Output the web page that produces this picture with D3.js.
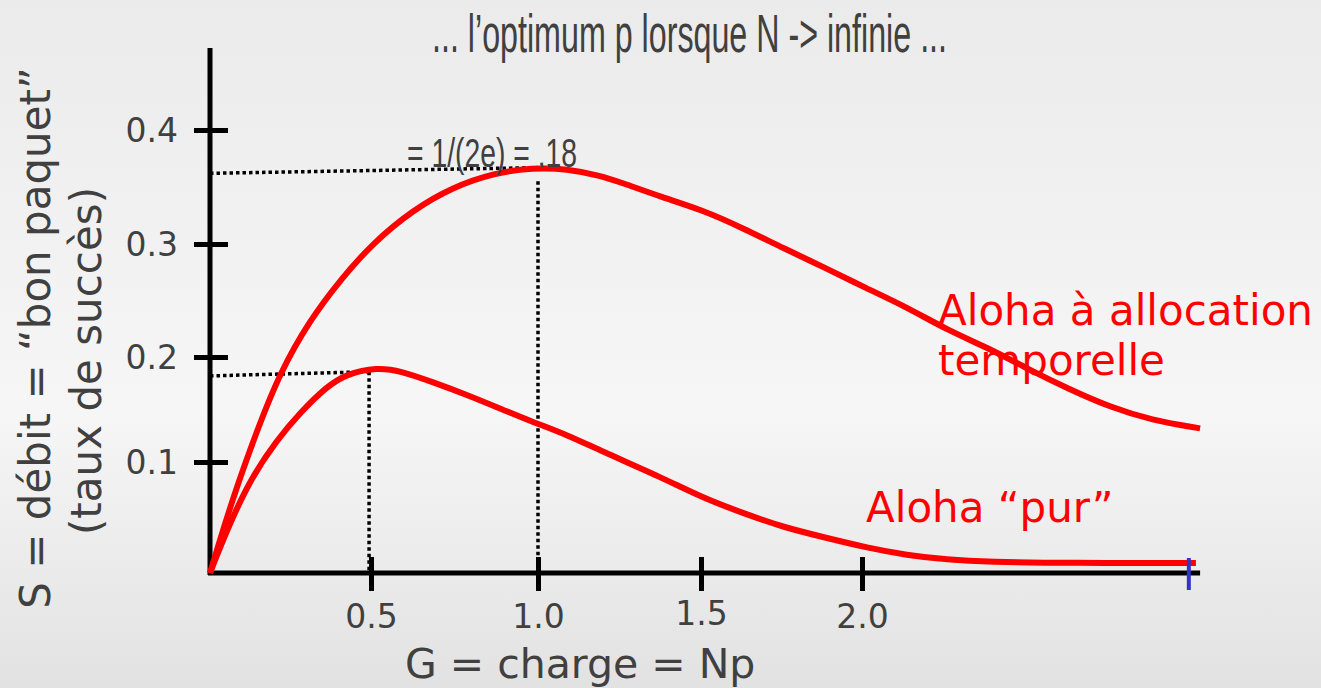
<!DOCTYPE html>
<html>
<head>
<meta charset="utf-8">
<script src="https://cdn.jsdelivr.net/npm/d3@7"></script>
<style>
  html, body { margin: 0; padding: 0; overflow: hidden; }
</style>
</head>
<body>
<div id="chart"></div>
<script>
// data
var slottedG = [0, 0.071, 0.146, 0.217, 0.311, 0.404, 0.506, 0.626, 0.746, 0.865, 0.985, 1.089, 1.190, 1.255, 1.380, 1.503, 1.630, 1.758, 1.885, 2.012, 2.140, 2.264, 2.392, 2.519, 2.646, 2.773, 2.898, 3.050];
var slottedS = [0, 0.068, 0.130, 0.185, 0.233, 0.268, 0.301, 0.330, 0.350, 0.362, 0.367, 0.366, 0.360, 0.354, 0.341, 0.330, 0.314, 0.296, 0.279, 0.261, 0.244, 0.224, 0.208, 0.188, 0.169, 0.152, 0.140, 0.132];

var pureG = [0, 0.053, 0.124, 0.208, 0.280, 0.363, 0.425, 0.518, 0.587, 0.686, 0.787, 0.886, 0.985, 1.088, 1.190, 1.380, 1.503, 1.630, 1.758, 1.885, 2.012, 2.140, 2.264, 2.392, 2.646, 3.037];
var pureS = [0, 0.039, 0.084, 0.121, 0.147, 0.172, 0.184, 0.190, 0.187, 0.176, 0.164, 0.151, 0.138, 0.126, 0.111, 0.086, 0.068, 0.054, 0.041, 0.032, 0.023, 0.016, 0.012, 0.010, 0.009, 0.009];

// dotted guide lines to the maxima
var slottedGuideH = [[0, 0.362], [1.0, 0.367]];
var slottedGuideV = [[1.0, 0.355], [1.0, 0]];
var pureGuideH = [[0, 0.182], [0.494, 0.186]];
var pureGuideV = [[0.494, 0.186], [0.494, 0]];

var xTicks = [0.5, 1.0, 1.5, 2.0];
var xTickLabels = ["0.5", "1.0", "1.5", "2.0"];
var yTicks = [0.1, 0.2, 0.3, 0.4];
var yTickLabels = ["0.1", "0.2", "0.3", "0.4"];
var xMax = 3.05;
var blueTickG = 3.015;

var titleText = "... l\u2019optimum p lorsque N -> infinie ...";
var peakText = "= 1/(2e) = .18";
var yTitle1 = "S = d\u00e9bit = \u201cbon paquet\u201d";
var yTitle2 = "(taux de succ\u00e8s)";
var xTitle = "G = charge = Np";

var svgWidth = 1321;
var svgHeight = 688;

var svg = d3.select("#chart")
  .append("svg")
  .attr("width", svgWidth)
  .attr("height", svgHeight);

// background gradient
var grad = svg.append("defs").append("linearGradient")
  .attr("id", "bg")
  .attr("x1", 0).attr("y1", 0).attr("x2", 0).attr("y2", 1);
grad.append("stop").attr("offset", "0%").attr("stop-color", "#ebebeb");
grad.append("stop").attr("offset", "60%").attr("stop-color", "#f6f6f6");
grad.append("stop").attr("offset", "100%").attr("stop-color", "#e2e2e2");

svg.append("rect")
  .attr("width", svgWidth)
  .attr("height", svgHeight)
  .attr("fill", "url(#bg)");

// the hand-drawn axes are not quite even, so use polylinear scales
var xScale = d3.scaleLinear()
  .domain([0, 0.5, 1.0, 1.5, 2.0])
  .range([210, 371, 538, 701, 862]);

var yScale = d3.scaleLinear()
  .domain([0, 0.1, 0.2, 0.3, 0.4])
  .range([573, 462, 357, 244, 130]);

var grey = "#404040";

// dotted guides
var guide = d3.line()
  .x(d => xScale(d[0]))
  .y(d => yScale(d[1]));

[slottedGuideH, slottedGuideV, pureGuideH, pureGuideV].forEach(function(g) {
  svg.append("path")
    .attr("d", guide(g))
    .attr("fill", "none")
    .attr("stroke", "black")
    .attr("stroke-width", 3.5)
    .attr("stroke-dasharray", "3.5,3");
});

// axes
var xAxis = d3.axisBottom(xScale)
  .tickValues(xTicks)
  .tickFormat((d, i) => xTickLabels[i])
  .tickSizeOuter(0);

var xAxisG = svg.append("g")
  .attr("transform", `translate(0, ${yScale(0)})`)
  .call(xAxis);

xAxisG.select(".domain").remove();
xAxisG.selectAll(".tick line")
  .attr("y1", -16)
  .attr("y2", 18)
  .attr("stroke", "black")
  .attr("stroke-width", 5);
xAxisG.selectAll(".tick text")
  .attr("y", 55)
  .attr("dy", 0)
  .attr("fill", grey)
  .style("font-family", "DejaVu Sans")
  .style("font-size", "33px");
xAxisG.selectAll(".tick").filter(d => d === 1.5).select("text").attr("y", 52);

var yAxis = d3.axisLeft(yScale)
  .tickValues(yTicks)
  .tickFormat((d, i) => yTickLabels[i])
  .tickSizeOuter(0);

var yAxisG = svg.append("g")
  .attr("transform", `translate(${xScale(0)}, 0)`)
  .call(yAxis);

yAxisG.select(".domain").remove();
yAxisG.selectAll(".tick line")
  .attr("x1", -16)
  .attr("x2", 18)
  .attr("stroke", "black")
  .attr("stroke-width", 5);
yAxisG.selectAll(".tick text")
  .attr("x", -32)
  .attr("dy", "0.36em")
  .attr("fill", grey)
  .style("font-family", "DejaVu Sans")
  .style("font-size", "33px");

// axis lines
svg.append("line")
  .attr("x1", xScale(0)).attr("x2", xScale(0))
  .attr("y1", 48).attr("y2", yScale(0) + 2)
  .attr("stroke", "black")
  .attr("stroke-width", 5);

svg.append("line")
  .attr("x1", xScale(0) - 2).attr("x2", xScale(xMax))
  .attr("y1", yScale(0)).attr("y2", yScale(0))
  .attr("stroke", "black")
  .attr("stroke-width", 5);

// curves
var curve = d3.line()
  .x(d => xScale(d[0]))
  .y(d => yScale(d[1]))
  .curve(d3.curveBasis);

svg.append("path")
  .attr("d", curve(d3.zip(slottedG, slottedS)))
  .attr("fill", "none")
  .attr("stroke", "#ff0000")
  .attr("stroke-width", 6)
  .attr("stroke-linejoin", "round");

svg.append("path")
  .attr("d", curve(d3.zip(pureG, pureS)))
  .attr("fill", "none")
  .attr("stroke", "#ff0000")
  .attr("stroke-width", 6)
  .attr("stroke-linejoin", "round");

// blue marker at the end of the x axis
svg.append("line")
  .attr("x1", xScale(blueTickG)).attr("x2", xScale(blueTickG))
  .attr("y1", yScale(0) - 15).attr("y2", yScale(0) + 17)
  .attr("stroke", "#3333cc")
  .attr("stroke-width", 4);

// title and annotations
svg.append("text")
  .attr("x", 432)
  .attr("y", 52)
  .attr("textLength", 515)
  .attr("lengthAdjust", "spacingAndGlyphs")
  .attr("fill", grey)
  .style("font-family", "Liberation Sans Narrow, Liberation Sans, sans-serif")
  .style("font-size", "53px")
  .text(titleText);

svg.append("text")
  .attr("x", 407)
  .attr("y", 167)
  .attr("textLength", 170)
  .attr("lengthAdjust", "spacingAndGlyphs")
  .attr("fill", grey)
  .style("font-family", "Liberation Sans Narrow, Liberation Sans, sans-serif")
  .style("font-size", "41px")
  .text(peakText);

var redLabel = svg.append("g")
  .attr("fill", "#ff0000")
  .style("font-family", "DejaVu Sans")
  .style("font-size", "42px");

redLabel.append("text").attr("x", 938).attr("y", 325).text("Aloha \u00e0 allocation");
redLabel.append("text").attr("x", 938).attr("y", 375).text("temporelle");
redLabel.append("text").attr("x", 866).attr("y", 522).text("Aloha \u201cpur\u201d");

// axis titles
svg.append("text")
  .attr("transform", "translate(50, 338) rotate(-90)")
  .style("text-anchor", "middle")
  .attr("fill", grey)
  .style("font-family", "DejaVu Sans")
  .style("font-size", "42px")
  .text(yTitle1);

svg.append("text")
  .attr("transform", "translate(101, 361) rotate(-90)")
  .style("text-anchor", "middle")
  .attr("fill", grey)
  .style("font-family", "DejaVu Sans")
  .style("font-size", "42px")
  .text(yTitle2);

svg.append("text")
  .attr("x", 405)
  .attr("y", 678)
  .attr("fill", grey)
  .style("font-family", "DejaVu Sans")
  .style("font-size", "41px")
  .text(xTitle);
</script>
</body>
</html>
